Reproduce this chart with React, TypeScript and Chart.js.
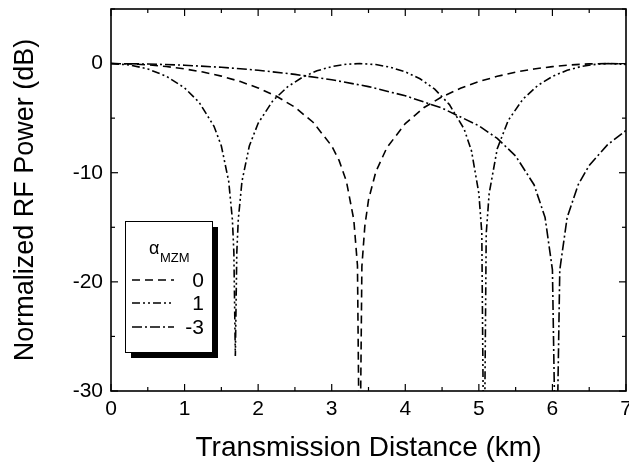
import React, { useEffect, useRef } from 'react';
import { Chart, registerables } from 'chart.js';

Chart.register(...registerables);

// ---- data ----
const X_TICKS = [0, 1, 2, 3, 4, 5, 6, 7];
const X_MINOR = [0.5, 1.5, 2.5, 3.5, 4.5, 5.5, 6.5];
const Y_TICKS = [0, -10, -20, -30];
const Y_MINOR = [5, -5, -15, -25];

const X_TITLE = 'Transmission Distance (km)';
const Y_TITLE = 'Normalized RF Power (dB)';
const LEGEND_SYMBOL = 'α';
const LEGEND_SUB = 'MZM';
const SERIES_LABELS = ['0', '1', '-3'];

const DIST_A0 = [0, 0.25, 0.5, 0.75, 1, 1.25, 1.5, 1.75, 2, 2.25, 2.5, 2.75, 3, 3.1, 3.2, 3.3, 3.35, 3.38, 3.41, 3.45, 3.5, 3.6, 3.75, 4, 4.25, 4.5, 4.75, 5, 5.25, 5.5, 5.75, 6, 6.25, 6.5, 6.75, 7];
const POWER_A0 = [0, -0.03, -0.12, -0.27, -0.49, -0.78, -1.15, -1.63, -2.23, -3.0, -4.0, -5.4, -7.55, -8.87, -10.8, -14.3, -18.5, -40, -18.6, -14.9, -12.5, -9.9, -7.7, -5.5, -4.05, -3.04, -2.27, -1.65, -1.17, -0.78, -0.49, -0.28, -0.12, -0.03, 0, -0.03];

const DIST_A1 = [0, 0.25, 0.5, 0.75, 1, 1.2, 1.4, 1.5, 1.6, 1.65, 1.67, 1.69, 1.71, 1.73, 1.78, 1.88, 2, 2.2, 2.4, 2.6, 2.8, 3, 3.2, 3.38, 3.6, 3.8, 4, 4.2, 4.4, 4.6, 4.8, 4.9, 5, 5.04, 5.07, 5.1, 5.14, 5.25, 5.4, 5.6, 5.8, 6, 6.2, 6.4, 6.6, 6.76, 7];
const POWER_A1 = [0, -0.12, -0.49, -1.15, -2.23, -3.57, -5.75, -7.55, -10.8, -14.3, -17.3, -26.8, -17.3, -14.3, -10.8, -7.55, -5.47, -3.4, -2.13, -1.26, -0.66, -0.28, -0.06, 0, -0.09, -0.34, -0.76, -1.39, -2.34, -3.76, -6.0, -8.0, -11.9, -15.5, -40, -15.6, -11.9, -7.8, -5.2, -3.25, -2.01, -1.18, -0.61, -0.25, -0.06, 0, -0.09];

const DIST_AM3 = [0, 0.5, 1, 1.5, 2, 2.5, 3, 3.5, 4, 4.5, 5, 5.25, 5.5, 5.75, 5.9, 6, 6.05, 6.1, 6.2, 6.35, 6.5, 6.75, 7];
const POWER_AM3 = [0, -0.04, -0.15, -0.34, -0.61, -0.99, -1.48, -2.11, -2.95, -4.08, -5.7, -6.86, -8.47, -11.1, -14.1, -18.9, -40, -18.9, -14.1, -11.1, -9.33, -7.43, -6.13];

const FONT = "'Liberation Sans', Arial, Helvetica, sans-serif";

const DASHES = [
  [8, 5],
  [8, 3, 2, 3, 2, 3],
  [10, 3, 2, 3],
];

const toPoints = (xs: number[], ys: number[]) => xs.map((x, i) => ({ x, y: ys[i] }));

const framePlugin = {
  id: 'frame',
  afterDatasetsDraw(chart: any) {
    const { ctx, chartArea, scales } = chart;
    const { left, right, top, bottom } = chartArea;
    const xs = scales.x;
    const ys = scales.y;
    ctx.save();
    ctx.strokeStyle = '#000';
    ctx.setLineDash([]);
    ctx.lineWidth = 1.6;
    ctx.strokeRect(left, top, right - left, bottom - top);
    ctx.lineWidth = 1.2;
    const seg = (x1: number, y1: number, x2: number, y2: number) => {
      ctx.beginPath();
      ctx.moveTo(x1, y1);
      ctx.lineTo(x2, y2);
      ctx.stroke();
    };
    X_TICKS.forEach((v) => {
      const p = xs.getPixelForValue(v);
      seg(p, bottom, p, bottom - 7);
      seg(p, top, p, top + 7);
    });
    X_MINOR.forEach((v) => {
      const p = xs.getPixelForValue(v);
      seg(p, bottom, p, bottom - 4);
      seg(p, top, p, top + 4);
    });
    Y_TICKS.forEach((v) => {
      const p = ys.getPixelForValue(v);
      seg(left, p, left + 7, p);
      seg(right, p, right - 7, p);
    });
    Y_MINOR.forEach((v) => {
      const p = ys.getPixelForValue(v);
      seg(left, p, left + 4, p);
      seg(right, p, right - 4, p);
    });
    ctx.restore();
  },
};

const legendPlugin = {
  id: 'boxLegend',
  afterDraw(chart: any) {
    const { ctx } = chart;
    const bx = 125, by = 221, bw = 87, bh = 131, sh = 6;
    ctx.save();
    ctx.fillStyle = '#000';
    ctx.fillRect(bx + sh, by + sh, bw, bh);
    ctx.fillStyle = '#fff';
    ctx.fillRect(bx, by, bw, bh);
    ctx.strokeStyle = '#000';
    ctx.lineWidth = 1;
    ctx.strokeRect(bx + 0.5, by + 0.5, bw, bh);
    ctx.fillStyle = '#000';
    ctx.textBaseline = 'alphabetic';
    ctx.textAlign = 'left';
    ctx.font = `18px ${FONT}`;
    ctx.fillText(LEGEND_SYMBOL, 149, 254);
    ctx.font = `13px ${FONT}`;
    ctx.fillText(LEGEND_SUB, 160, 262);
    const rows = [280, 303, 327];
    chart.data.datasets.forEach((ds: any, i: number) => {
      const yy = rows[i];
      ctx.setLineDash(ds.borderDash || []);
      ctx.lineWidth = ds.borderWidth;
      ctx.beginPath();
      ctx.moveTo(132, yy);
      ctx.lineTo(174, yy);
      ctx.stroke();
      ctx.setLineDash([]);
      ctx.font = `21px ${FONT}`;
      ctx.textAlign = 'right';
      ctx.textBaseline = 'middle';
      ctx.fillText(SERIES_LABELS[i], 204, yy + 1);
    });
    ctx.restore();
  },
};

export default function App() {
  const ref = useRef<HTMLCanvasElement | null>(null);

  useEffect(() => {
    if (!ref.current) return;
    const datasets = [
      { label: SERIES_LABELS[0], data: toPoints(DIST_A0, POWER_A0), borderDash: DASHES[0] },
      { label: SERIES_LABELS[1], data: toPoints(DIST_A1, POWER_A1), borderDash: DASHES[1] },
      { label: SERIES_LABELS[2], data: toPoints(DIST_AM3, POWER_AM3), borderDash: DASHES[2] },
    ].map((d) => ({
      ...d,
      borderColor: '#000',
      backgroundColor: '#000',
      borderWidth: 1.6,
      pointRadius: 0,
      tension: 0,
      fill: false,
    }));

    const chart = new Chart(ref.current, {
      type: 'line',
      data: { datasets },
      options: {
        animation: false,
        responsive: false,
        devicePixelRatio: 1,
        layout: { padding: { top: 9, right: 3, left: 0, bottom: 0 } },
        plugins: { legend: { display: false }, tooltip: { enabled: false } },
        scales: {
          x: {
            type: 'linear',
            min: 0,
            max: 7,
            grid: { display: false, drawTicks: false },
            border: { display: false },
            afterBuildTicks: (s: any) => {
              s.ticks = X_TICKS.map((v) => ({ value: v }));
            },
            afterFit: (s: any) => {
              s.height = 77;
              s.paddingLeft = 0;
              s.paddingRight = 0;
            },
            ticks: {
              autoSkip: false,
              maxRotation: 0,
              padding: 6,
              color: '#000',
              font: { family: FONT, size: 21 },
            },
            title: {
              display: true,
              text: X_TITLE,
              color: '#000',
              font: { family: FONT, size: 28 },
              padding: { top: 0, bottom: 3 },
            },
          },
          y: {
            type: 'linear',
            min: -30,
            max: 5,
            grid: { display: false, drawTicks: false },
            border: { display: false },
            afterBuildTicks: (s: any) => {
              s.ticks = Y_TICKS.map((v) => ({ value: v }));
            },
            afterFit: (s: any) => {
              s.width = 111;
              s.paddingTop = 0;
              s.paddingBottom = 0;
            },
            ticks: {
              padding: 8,
              color: '#000',
              font: { family: FONT, size: 21 },
            },
            title: {
              display: true,
              text: Y_TITLE,
              color: '#000',
              font: { family: FONT, size: 27 },
              padding: { top: 9, bottom: 0 },
            },
          },
        },
      },
      plugins: [framePlugin, legendPlugin],
    });
    return () => chart.destroy();
  }, []);

  return (
    <div style={{ position: 'fixed', left: 0, top: 0, width: 629, height: 468, background: '#fff' }}>
      <canvas ref={ref} width={629} height={468} />
    </div>
  );
}
